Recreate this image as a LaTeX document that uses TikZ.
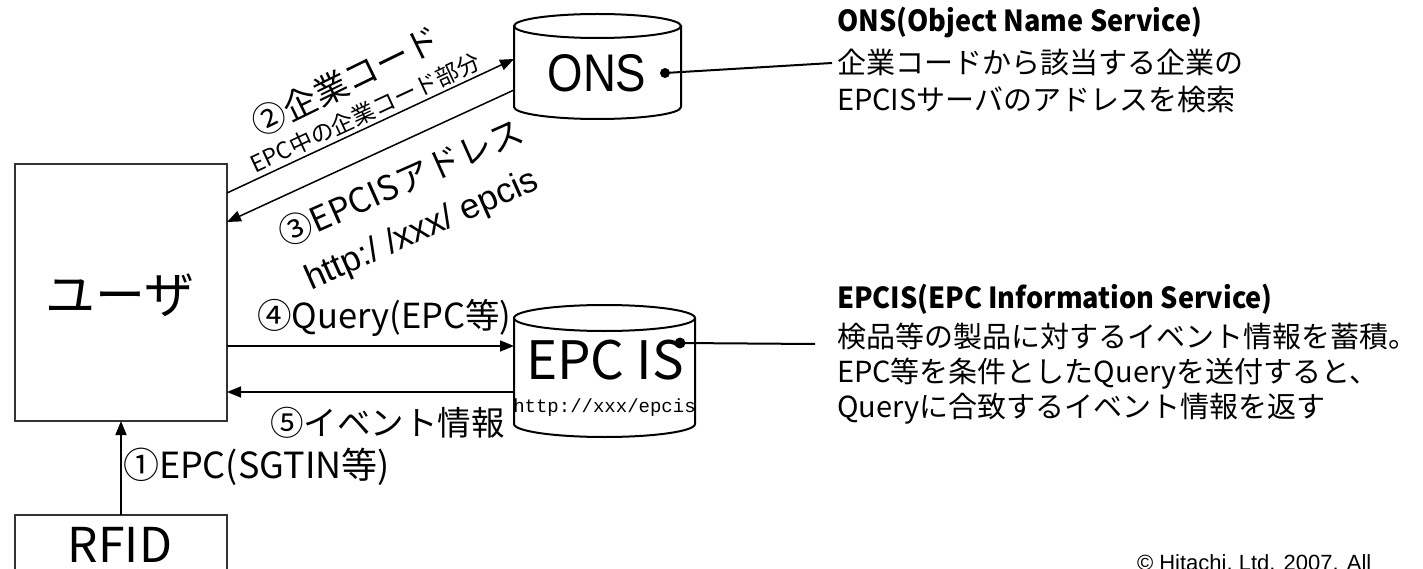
\documentclass[tikz,border=0pt]{standalone}
\usepackage{fontspec}
\setmainfont{Noto Sans CJK JP}
\newfontfamily\headfont[FakeStretch=0.935]{Noto Sans CJK JP}
\newfontfamily\arialfont{Liberation Sans}
\newfontfamily\arialnarrow[FakeStretch=0.86]{Liberation Sans}
\newfontfamily\monofont{Liberation Mono}
\usetikzlibrary{arrows.meta}

\newcommand{\setfs}[1]{\fontsize{#1}{#1}\selectfont}

% database drum: #1 centre x, #2 x radius, #3 top rim y, #4 bottom rim y, #5 rim y radius
\newcommand{\drum}[5]{%
  \fill[white] (#1-#2,#3) rectangle (#1+#2,#4);
  \fill[white] (#1,#4) ellipse [x radius=#2pt, y radius=#5pt];
  \draw[drumline] (#1-#2,#3) -- (#1-#2,#4)
     arc [start angle=180, end angle=360, x radius=#2pt, y radius=#5pt] -- (#1+#2,#3);
  \draw[drumline, fill=white] (#1,#3) ellipse [x radius=#2pt, y radius=#5pt];
}

\begin{document}
\begin{tikzpicture}[x=1pt, y=-1pt,
  box/.style={draw=black!80, line width=2pt, inner sep=0pt, outer sep=0pt},
  body/.style={inner sep=0pt, outer sep=0pt},
  drumline/.style={line width=2pt, black},
  arr/.style={line width=1.5pt, -{Triangle[length=14pt, width=11pt]}},
  lead/.style={line width=2pt},
  txt/.style={inner sep=0pt, outer sep=0pt},
]
\useasboundingbox (0,0) rectangle (1423,569);
\clip (0,0) rectangle (1423,569);
\fill[white] (0,0) rectangle (1423,569);

% ---- main boxes ----
\node[box, minimum width=212pt, minimum height=257pt] (user) at (121,292.5) {};
\node[txt, font=\setfs{50}] (usertext) at (120,295) {ユーザ};
\node[box, minimum width=212pt, minimum height=60pt] (rfid) at (121,545) {};
\node[txt, font=\setfs{48}] (rfidtext) at (120,545) {RFID};

% ---- ONS drum ----
\drum{597.5}{83.5}{26}{107}{12}
\node[body, minimum width=167pt, minimum height=81pt] (ons) at (597.5,66.5) {};
\node[txt, font=\arialnarrow\setfs{53}] (onstext) at (597,73) {ONS};

% ---- EPC IS drum ----
\drum{604.5}{90.5}{318}{424}{13}
\node[body, minimum width=181pt, minimum height=106pt] (epcis) at (604.5,371) {};
\node[txt, font=\setfs{53}] (epcistext) at (605,360) {EPC IS};
\node[txt, font=\monofont\setfs{19}] (epcisurl) at (604.5,408) {http://xxx/epcis};

% ---- message arrows ----
\draw[arr] ([yshift=99.5pt]user.east) -- ([yshift=7.5pt]ons.west);
\draw[arr] ([yshift=-23.5pt]ons.west) -- ([yshift=70.5pt]user.east);
\draw[arr] ([yshift=-53.5pt]user.east) -- ([yshift=25pt]epcis.west);
\draw[arr] ([yshift=-21pt]epcis.west) -- ([yshift=-99.5pt]user.east);
\draw[arr] (rfid.north) -- (user.south);

% ---- arrow labels ----
\node[txt, font=\setfs{34}, rotate=26] (m2) at (346,81) {②企業コード};
\node[txt, font=\setfs{23}, rotate=25] (m2sub) at (365,113) {EPC中の企業コード部分};
\node[txt, font=\setfs{34}, rotate=24] (m3) at (401,182) {③EPCISアドレス};
\node[txt, font=\arialfont\setfs{35}, rotate=24] (m3sub) at (422,231) {http:/ /xxx/ epcis};
\node[txt, font=\setfs{34.5}, anchor=west] (m4) at (257,318) {④Query(EPC等)};
\node[txt, font=\setfs{33.5}, anchor=west] (m5) at (270,423) {⑤イベント情報};
\node[txt, font=\setfs{36}, anchor=west] (m1) at (123,467) {①EPC(SGTIN等)};

% ---- ONS description ----
\coordinate (onsdot) at (665,73);
\coordinate (onsend) at (832,63);
\draw[lead] (onsdot) -- (onsend);
\fill (onsdot) circle [radius=5pt];
\node[txt, font=\headfont\bfseries\setfs{29}, anchor=base west] (onsd0) at (837,32) {ONS(Object Name Service)};
\node[txt, font=\setfs{29}, anchor=base west] (onsd1) at (837,74) {企業コードから該当する企業の};
\node[txt, font=\setfs{29}, anchor=base west] (onsd2) at (837,111) {EPCISサーバのアドレスを検索};

% ---- EPCIS description ----
\coordinate (epcisdot) at (680,343);
\coordinate (epcisend) at (815,344);
\draw[lead] (epcisdot) -- (epcisend);
\fill (epcisdot) circle [radius=5.5pt];
\node[txt, font=\headfont\bfseries\setfs{29}, anchor=base west] (epd0) at (837,308) {EPCIS(EPC Information Service)};
\node[txt, font=\setfs{29}, anchor=base west] (epd1) at (837,347) {検品等の製品に対するイベント情報を蓄積。};
\node[txt, font=\setfs{29}, anchor=base west] (epd2) at (837,382) {EPC等を条件としたQueryを送付すると、};
\node[txt, font=\setfs{29}, anchor=base west] (epd3) at (837,417) {Queryに合致するイベント情報を返す};

% ---- footer ----
\node[txt, font=\arialfont\setfs{22}, anchor=base west] (copy) at (1137,570) {© Hitachi, Ltd. 2007. All};
\end{tikzpicture}
\end{document}
